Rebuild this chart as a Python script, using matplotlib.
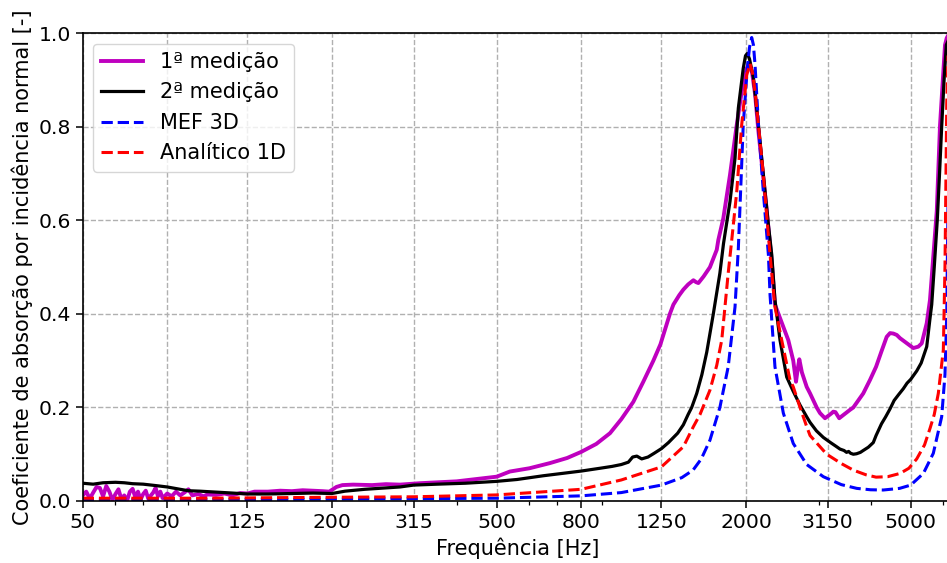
import numpy as np
import matplotlib
matplotlib.use("Agg")
import matplotlib.pyplot as plt
from matplotlib.ticker import FixedLocator, FixedFormatter, NullFormatter, LogLocator

# --- 1ª medição (measured, tube test #1) ---
freq_m1 = [50, 51, 52, 53, 54, 55, 56, 57, 58, 59, 60, 61, 62, 63, 64, 65, 66, 67, 68, 69,
           70, 71, 72, 74, 75, 76, 77, 78, 80, 82, 84, 86, 88, 90, 92, 95, 98, 100, 105, 110,
           115, 120, 125, 130, 140, 150, 160, 170, 180, 190, 197, 205, 212, 225, 250, 270,
           292, 326, 400, 500, 520, 538, 600, 672, 740, 800, 870, 939, 1000, 1069, 1130,
           1195, 1243, 1310, 1336, 1380, 1412, 1450, 1479, 1493, 1515, 1535, 1580, 1637,
           1700, 1715, 1763, 1830, 1900, 1953, 2009, 2037, 2070, 2104, 2144, 2203, 2240,
           2309, 2350, 2420, 2462, 2531, 2602, 2642, 2665, 2691, 2730, 2804, 2857, 2964,
           3019, 3104, 3160, 3224, 3251, 3290, 3360, 3450, 3568, 3634, 3840, 3988, 4124,
           4250, 4375, 4457, 4540, 4627, 4714, 4900, 5073, 5216, 5316, 5365, 5466, 5566,
           5700, 5780, 5886, 5980, 6051, 6110, 6200]
alpha_m1 = [0.012, 0.020, 0.005, 0.018, 0.030, 0.028, 0.010, 0.032, 0.020, 0.002, 0.015,
            0.025, 0.004, 0.012, 0.001, 0.020, 0.026, 0.008, 0.020, 0.003, 0.015, 0.022,
            0.005, 0.018, 0.028, 0.010, 0.020, 0.006, 0.016, 0.010, 0.020, 0.012, 0.018,
            0.025, 0.012, 0.015, 0.010, 0.014, 0.013, 0.016, 0.012, 0.017, 0.016, 0.020,
            0.020, 0.022, 0.021, 0.023, 0.022, 0.021, 0.020, 0.030, 0.034, 0.035, 0.034,
            0.036, 0.035, 0.038, 0.042, 0.052, 0.058, 0.063, 0.070, 0.081, 0.092, 0.105,
            0.122, 0.145, 0.175, 0.212, 0.255, 0.300, 0.335, 0.400, 0.420, 0.440, 0.452,
            0.463, 0.469, 0.472, 0.468, 0.466, 0.480, 0.500, 0.537, 0.558, 0.604, 0.697,
            0.804, 0.875, 0.925, 0.934, 0.915, 0.870, 0.790, 0.690, 0.630, 0.510, 0.420,
            0.390, 0.373, 0.344, 0.300, 0.255, 0.280, 0.303, 0.275, 0.244, 0.230, 0.200,
            0.188, 0.177, 0.182, 0.188, 0.191, 0.190, 0.177, 0.185, 0.195, 0.200, 0.230,
            0.259, 0.287, 0.320, 0.351, 0.359, 0.358, 0.355, 0.348, 0.337, 0.327, 0.330,
            0.337, 0.351, 0.380, 0.430, 0.550, 0.620, 0.804, 0.900, 0.975, 0.990, 1.000]

# --- 2ª medição (measured, tube test #2) ---
freq_m2 = [50, 53, 56, 60, 63, 66, 70, 75, 80, 86, 90, 96, 105, 115, 125, 140, 160, 180,
           200, 215, 240, 270, 292, 315, 360, 420, 500, 560, 648, 720, 800, 888, 950, 1000,
           1040, 1065, 1090, 1120, 1160, 1200, 1250, 1300, 1368, 1412, 1450, 1479, 1521,
           1565, 1608, 1668, 1730, 1765, 1830, 1882, 1917, 1970, 1995, 2015, 2040, 2085,
           2144, 2183, 2266, 2309, 2350, 2417, 2509, 2600, 2702, 2804, 2857, 2960, 3075,
           3200, 3300, 3375, 3450, 3500, 3540, 3580, 3634, 3700, 3780, 3840, 3950, 4061,
           4124, 4250, 4350, 4457, 4560, 4680, 4798, 4900, 5000, 5170, 5300, 5466, 5566,
           5620, 5700, 5796, 5870, 5940, 6020, 6095, 6200]
alpha_m2 = [0.038, 0.036, 0.039, 0.040, 0.039, 0.037, 0.036, 0.033, 0.030, 0.025, 0.022,
            0.021, 0.019, 0.017, 0.015, 0.015, 0.016, 0.017, 0.016, 0.021, 0.025, 0.028,
            0.030, 0.034, 0.036, 0.038, 0.042, 0.046, 0.054, 0.059, 0.064, 0.070, 0.074,
            0.078, 0.083, 0.094, 0.096, 0.090, 0.094, 0.102, 0.112, 0.125, 0.145, 0.163,
            0.185, 0.200, 0.230, 0.270, 0.318, 0.400, 0.487, 0.550, 0.640, 0.733, 0.840,
            0.925, 0.952, 0.957, 0.945, 0.905, 0.804, 0.733, 0.590, 0.526, 0.430, 0.344,
            0.265, 0.235, 0.205, 0.180, 0.168, 0.150, 0.136, 0.125, 0.117, 0.111, 0.108,
            0.104, 0.106, 0.102, 0.100, 0.101, 0.104, 0.108, 0.115, 0.125, 0.140, 0.165,
            0.180, 0.197, 0.215, 0.228, 0.240, 0.252, 0.260, 0.278, 0.295, 0.330, 0.390,
            0.420, 0.500, 0.600, 0.700, 0.800, 0.900, 0.975, 0.990]

# --- MEF 3D (finite element model) ---
freq_fem = [50, 80, 125, 200, 315, 500, 800, 1000, 1250, 1400, 1490, 1560, 1637, 1730,
            1812, 1882, 1917, 1945, 1970, 2015, 2040, 2065, 2085, 2104, 2144, 2203, 2266,
            2287, 2350, 2462, 2602, 2804, 3075, 3400, 3704, 4000, 4293, 4700, 5000, 5365,
            5670, 5940, 6050, 6110, 6150, 6200, 6260]
alpha_fem = [0.002, 0.003, 0.003, 0.004, 0.005, 0.006, 0.011, 0.018, 0.034, 0.050, 0.066,
             0.090, 0.130, 0.200, 0.287, 0.415, 0.540, 0.680, 0.804, 0.925, 0.970, 0.991,
             0.975, 0.932, 0.804, 0.661, 0.526, 0.440, 0.287, 0.188, 0.123, 0.078, 0.052,
             0.035, 0.027, 0.024, 0.0235, 0.027, 0.034, 0.059, 0.102, 0.180, 0.270, 0.400,
             0.620, 0.850, 0.980]

# --- Analítico 1D (analytical transfer-matrix model) ---
freq_ana = [50, 100, 200, 315, 500, 800, 1000, 1250, 1412, 1493, 1549, 1637, 1700, 1748,
            1812, 1848, 1900, 1953, 2009, 2046, 2075, 2104, 2144, 2203, 2287, 2350, 2440,
            2555, 2602, 2702, 2804, 2857, 3134, 3400, 3634, 3900, 4124, 4400, 4714, 4950,
            5170, 5400, 5566, 5700, 5830, 5995, 6050, 6110, 6160, 6250]
alpha_ana = [0.006, 0.006, 0.008, 0.009, 0.013, 0.025, 0.045, 0.073, 0.116, 0.159, 0.185,
             0.237, 0.290, 0.344, 0.487, 0.558, 0.661, 0.804, 0.911, 0.935, 0.915, 0.875,
             0.804, 0.697, 0.526, 0.415, 0.344, 0.259, 0.244, 0.200, 0.159, 0.140, 0.100,
             0.080, 0.066, 0.056, 0.051, 0.052, 0.059, 0.070, 0.090, 0.120, 0.155, 0.185,
             0.230, 0.323, 0.500, 0.850, 0.970, 1.000]

xticks = [50, 80, 125, 200, 315, 500, 800, 1250, 2000, 3150, 5000]
xtick_labels = [str(v) for v in xticks]
yticks = [0.0, 0.2, 0.4, 0.6, 0.8, 1.0]

W, H = 947, 563
fig = plt.figure(figsize=(W / 100, H / 100), dpi=100)

x_lo, x_hi = 50, 6300
px_per_decade = 414.0
ax_left_px, ax_bottom_px, ax_height_px = 82.7, 62.0, 467.7
ax_width_px = px_per_decade * np.log10(x_hi / x_lo)
ax = fig.add_axes([ax_left_px / W, ax_bottom_px / H, ax_width_px / W, ax_height_px / H])

fs = 15
ax.plot(freq_m1, alpha_m1, color=(0.75, 0.0, 0.75), lw=2.8, label="1ª medição")
ax.plot(freq_m2, alpha_m2, color="black", lw=2.3, label="2ª medição")
ax.plot(freq_fem, alpha_fem, color="blue", lw=2.2, ls="--", label="MEF 3D")
ax.plot(freq_ana, alpha_ana, color="red", lw=2.2, ls="--", label="Analítico 1D")

ax.set_xscale("log")
ax.set_xlim(x_lo, x_hi)
ax.set_ylim(0, 1)
ax.xaxis.set_major_locator(FixedLocator(xticks))
ax.xaxis.set_major_formatter(FixedFormatter(xtick_labels))
ax.xaxis.set_minor_locator(LogLocator(base=10, subs=np.arange(2, 10)))
ax.xaxis.set_minor_formatter(NullFormatter())
ax.set_yticks(yticks)
ax.set_yticklabels([f"{v:.1f}" for v in yticks])
ax.tick_params(axis="both", which="major", labelsize=14.7, length=5, width=1.1)
ax.tick_params(axis="both", which="minor", length=3, width=0.9)

ax.grid(True, which="major", color="#b0b0b0", ls="--", lw=1.0)
for s in ax.spines.values():
    s.set_linewidth(1.2)

ax.set_xlabel("Frequência [Hz]", fontsize=fs)
ax.set_ylabel("Coeficiente de absorção por incidência normal [-]", fontsize=fs)
ax.legend(loc="upper left", fontsize=fs)

fig.savefig("out.png", dpi=100)
